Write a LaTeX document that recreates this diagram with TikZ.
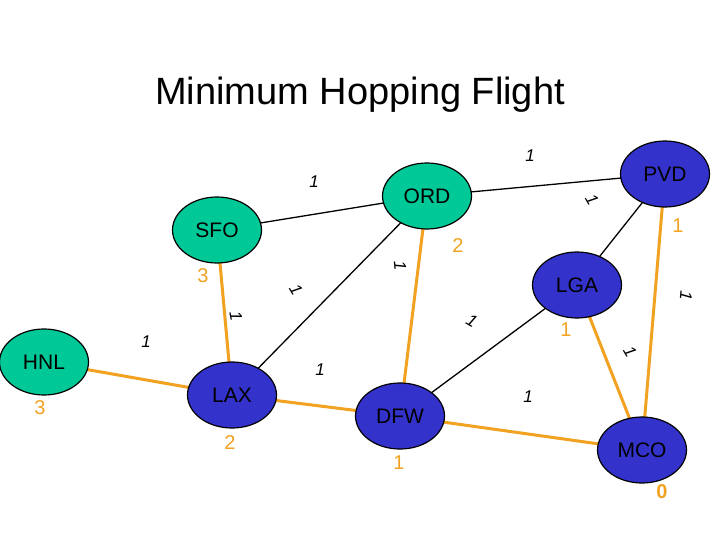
\documentclass[tikz,border=0pt]{standalone}
\usepackage{fontspec}
\setmainfont{Liberation Sans}
\usetikzlibrary{shapes.geometric}
\begin{document}
\begin{tikzpicture}[x=1pt,y=-1pt,
  apt/.style={ellipse,draw=black,line width=1.2pt,minimum width=89pt,minimum height=66pt,inner sep=0pt,font=\fontsize{21}{21}\selectfont},
  gr/.style={apt,fill=grn}, bl/.style={apt,fill=blu},
  blk/.style={line width=1.3pt,black}, org/.style={line width=3pt,orng},
  w/.style={font=\fontsize{17}{17}\selectfont\itshape},
  d/.style={text=orng,font=\fontsize{20}{20}\selectfont}]
\definecolor{grn}{RGB}{0,200,150}
\definecolor{blu}{RGB}{51,51,204}
\definecolor{orng}{RGB}{240,162,32}
\useasboundingbox (0,0) rectangle (720,540);
\node[font=\fontsize{38}{38}\selectfont] (title) at (360,95) {Minimum Hopping Flight};
\coordinate (cHNL) at (44,362);
\coordinate (cLAX) at (232,395);
\coordinate (cSFO) at (217,230);
\coordinate (cORD) at (427,196);
\coordinate (cPVD) at (665,174);
\coordinate (cLGA) at (577,285);
\coordinate (cDFW) at (400,416);
\coordinate (cMCO) at (642,450);
\draw[blk] (cSFO)--(cORD);
\draw[blk] (cORD)--(cPVD);
\draw[blk] (cORD)--(cLAX);
\draw[blk] (cPVD)--(cLGA);
\draw[blk] (cLGA)--(cDFW);
\draw[org] (cSFO)--(cLAX);
\draw[org] (cHNL)--(cLAX);
\draw[org] (cLAX)--(cDFW);
\draw[org] (cORD)--(cDFW);
\draw[org] (cDFW)--(cMCO);
\draw[org] (cLGA)--(cMCO);
\draw[org] (cPVD)--(cMCO);
\node[gr] (HNL) at (cHNL) {HNL};
\node[bl] (LAX) at (cLAX) {LAX};
\node[gr] (SFO) at (cSFO) {SFO};
\node[gr] (ORD) at (cORD) {ORD};
\node[bl] (PVD) at (cPVD) {PVD};
\node[bl] (LGA) at (cLGA) {LGA};
\node[bl] (DFW) at (cDFW) {DFW};
\node[bl] (MCO) at (cMCO) {MCO};
\node[w] (w1) at (314,182) {1};
\node[w] (w2) at (530,156) {1};
\node[w,rotate=-60] (w3) at (592,200) {1};
\node[w,rotate=-80] (w4) at (236,316) {1};
\node[w] (w5) at (146,342) {1};
\node[w,rotate=-60] (w6) at (296,290) {1};
\node[w,rotate=-85] (w7) at (400,266) {1};
\node[w,rotate=-30] (w8) at (472,321) {1};
\node[w] (w9) at (320,370) {1};
\node[w] (w10) at (528,397) {1};
\node[w,rotate=-60] (w11) at (630,352) {1};
\node[w,rotate=-95] (w12) at (686,296) {1};
\node[d] (dSFO) at (203,276) {3};
\node[d] (dHNL) at (40,408) {3};
\node[d] (dLAX) at (230,443) {2};
\node[d] (dORD) at (458,246) {2};
\node[d] (dDFW) at (399,463) {1};
\node[d] (dLGA) at (566,330) {1};
\node[d] (dPVD) at (678,226) {1};
\node[d,font=\fontsize{20}{20}\selectfont\bfseries] (dMCO) at (662,492) {0};
\end{tikzpicture}
\end{document}
